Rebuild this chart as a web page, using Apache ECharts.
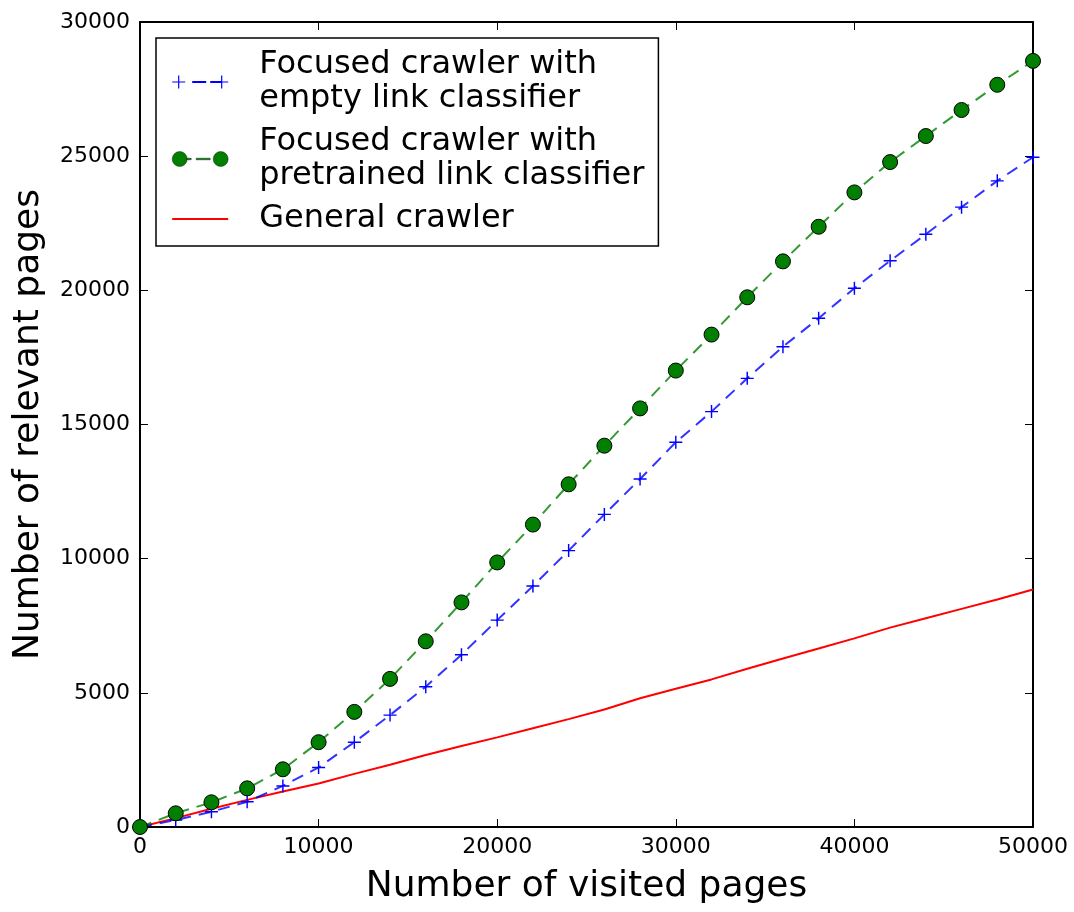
<!DOCTYPE html>
<html>
<head>
<meta charset="utf-8">
<script src="https://cdn.jsdelivr.net/npm/echarts@6/dist/echarts.min.js"></script>
<style>
  html, body { margin: 0; padding: 0; background: #fff; }
  #main { width: 1074px; height: 912px; }
</style>
</head>
<body>
<div id="main"></div>
<script>
// visited pages (x) and relevant pages for each crawler
var visited = [0, 2000, 4000, 6000, 8000, 10000, 12000, 14000, 16000, 18000, 20000, 22000, 24000,
    26000, 28000, 30000, 32000, 34000, 36000, 38000, 40000, 42000, 44000, 46000, 48000, 50000];
var emptyClassifier = [0, 260, 570, 940, 1530, 2220, 3160, 4170, 5230, 6420, 7710, 8980, 10300,
    11650, 12970, 14340, 15480, 16720, 17900, 18960, 20080, 21100, 22090, 23100, 24080, 24960];
var pretrainedClassifier = [0, 510, 920, 1440, 2150, 3160, 4290, 5520, 6920, 8370, 9860, 11270, 12770,
    14210, 15600, 17010, 18350, 19740, 21080, 22370, 23650, 24780, 25750, 26720, 27660, 28550];
var generalCrawler = [0, 330, 680, 1010, 1320, 1620, 1980, 2320, 2680, 3020, 3340, 3680, 4020,
    4380, 4800, 5150, 5500, 5900, 6280, 6650, 7030, 7430, 7780, 8130, 8480, 8850];
var seriesNames = ['Focused crawler with\nempty link classifier',
    'Focused crawler with\npretrained link classifier',
    'General crawler'];

var pairs = function(ys){
    return visited.map(function(x, i){ return [x, ys[i]]; });
};

var font = 'DejaVu Sans';
var plus = 'path://M0,4.45h10v1.1h-10z M4.45,0h1.1v10h-1.1z';

// legend icons drawn like matplotlib: marker at both ends, dash between (box 56 x 16)
var iconEmpty = 'path://M0,7.4h13v1.2h-13z M5.9,1.5h1.2v13h-1.2z M20,7h14v2h-14z M38,7h12v2h-12z' +
    ' M43,7.4h13v1.2h-13z M48.9,1.5h1.2v13h-1.2z M0,0h0.01v0.01h-0.01z M55.99,15.99h0.01v0.01h-0.01z';
var iconPretrained = 'path://M0,8a7.5,7.5 0 1,0 15,0a7.5,7.5 0 1,0 -15,0z M15,7.2h4v1.6h-4z M24,7.2h14v1.6h-14z' +
    ' M41,8a7.5,7.5 0 1,0 15,0a7.5,7.5 0 1,0 -15,0z M0,0h0.01v0.01h-0.01z M55.99,15.99h0.01v0.01h-0.01z';
var iconGeneral = 'path://M0,7h56v2h-56z M0,0h0.01v0.01h-0.01z M55.99,15.99h0.01v0.01h-0.01z';

var chart = echarts.init(document.getElementById('main'));

var frameAxis = function(extra){
    return Object.assign({
        type: 'value',
        axisLine: { show: true, onZero: false, lineStyle: { color: '#000', width: 2 } },
        axisTick: { show: true, inside: true, length: 8, lineStyle: { color: '#000', width: 1 } },
        splitLine: { show: false },
        axisLabel: { show: false }
    }, extra);
};

chart.setOption({
    animation: false,
    backgroundColor: '#fff',
    grid: { left: 140, right: 41, top: 22, bottom: 85 },
    legend: {
        orient: 'vertical',
        left: 156,
        top: 38,
        padding: [10, 14, 10, 16],
        itemGap: 9,
        itemWidth: 56,
        itemHeight: 16,
        borderColor: '#000',
        borderWidth: 1.5,
        backgroundColor: '#fff',
        textStyle: {
            fontFamily: font,
            fontSize: 32,
            lineHeight: 34,
            color: '#000',
            padding: [0, 0, 0, 26]
        },
        data: [
            { name: seriesNames[0], icon: iconEmpty, itemStyle: { color: '#0000ff' } },
            { name: seriesNames[1], icon: iconPretrained, itemStyle: { color: '#007f00', borderColor: '#000', borderWidth: 0.4 } },
            { name: seriesNames[2], icon: iconGeneral, itemStyle: { color: '#ff0000' } }
        ]
    },
    xAxis: [
        frameAxis({
            min: 0, max: 50000, interval: 10000,
            position: 'bottom',
            name: 'Number of visited pages',
            nameLocation: 'middle',
            nameGap: 42,
            nameTextStyle: { fontFamily: font, fontSize: 36, color: '#000' },
            axisLabel: { show: true, fontFamily: font, fontSize: 22, color: '#000', margin: 9,
                formatter: function(v){ return String(v); } }
        }),
        frameAxis({ min: 0, max: 50000, interval: 10000, position: 'top' })
    ],
    yAxis: [
        frameAxis({
            min: 0, max: 30000, interval: 5000,
            position: 'left',
            name: 'Number of relevant pages',
            nameLocation: 'middle',
            nameGap: 93,
            nameTextStyle: { fontFamily: font, fontSize: 36, color: '#000' },
            axisLabel: { show: true, fontFamily: font, fontSize: 22, color: '#000', margin: 10,
                formatter: function(v){ return String(v); } }
        }),
        frameAxis({ min: 0, max: 30000, interval: 5000, position: 'right' })
    ],
    series: [
        {
            name: seriesNames[0],
            type: 'line',
            data: pairs(emptyClassifier),
            symbol: plus,
            symbolSize: 13,
            showAllSymbol: true,
            itemStyle: { color: '#0000ff' },
            lineStyle: { color: '#0000ff', width: 2, type: [12, 8], opacity: 0.8 },
            z: 3
        },
        {
            name: seriesNames[1],
            type: 'line',
            data: pairs(pretrainedClassifier),
            symbol: 'circle',
            symbolSize: 15,
            showAllSymbol: true,
            itemStyle: { color: '#007f00', borderColor: '#000', borderWidth: 1 },
            lineStyle: { color: '#008000', width: 2, type: [12, 8], opacity: 0.8 },
            z: 4
        },
        {
            name: seriesNames[2],
            type: 'line',
            data: pairs(generalCrawler),
            symbol: 'none',
            itemStyle: { color: '#ff0000' },
            lineStyle: { color: '#ff0000', width: 2 },
            z: 2
        }
    ]
});
</script>
</body>
</html>
